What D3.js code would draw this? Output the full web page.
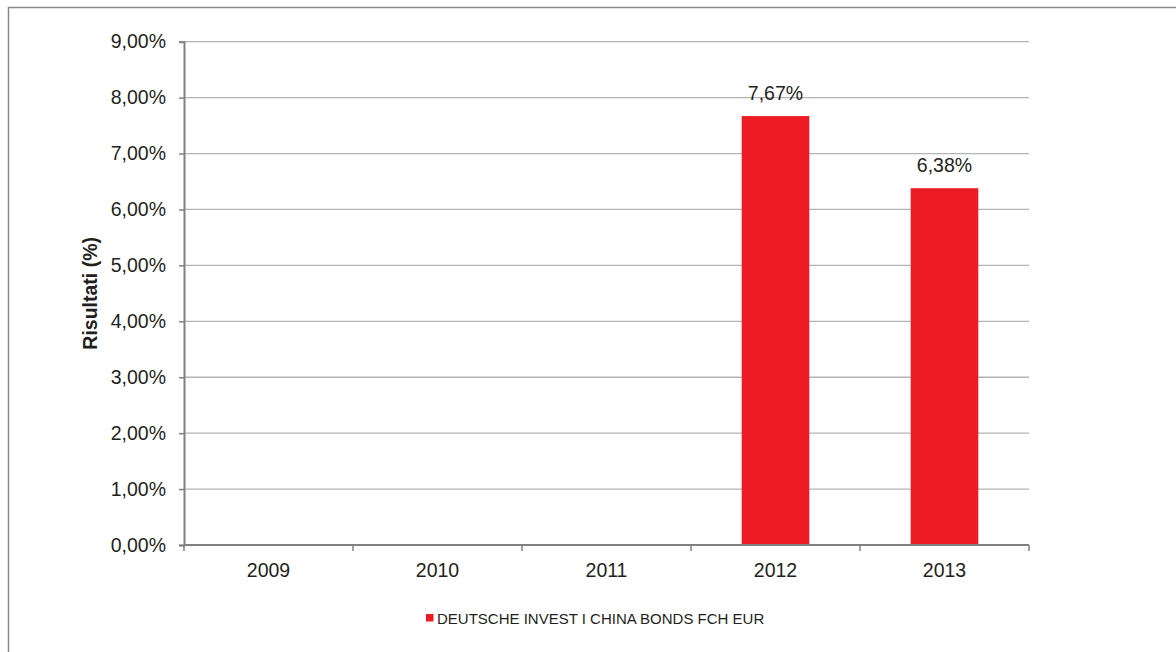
<!DOCTYPE html>
<html>
<head>
<meta charset="utf-8">
<script src="https://cdn.jsdelivr.net/npm/d3@7"></script>
<style>
  html, body { margin: 0; padding: 0; background: #fff; }
  svg { display: block; font-family: "Liberation Sans", Arial, Helvetica, sans-serif; }
</style>
</head>
<body>
<svg id="chart" width="1176" height="652"></svg>
<script>
const categories = ["2009", "2010", "2011", "2012", "2013"];
const values = [null, null, null, 7.67, 6.38];
const seriesName = "DEUTSCHE INVEST I CHINA BONDS FCH EUR";
const yTicks = [0, 1, 2, 3, 4, 5, 6, 7, 8, 9];
const yTitle = "Risultati (%)";

const svg = d3.select("#chart");
const W = 1176, H = 652;
const plot = { left: 184, right: 1029, top: 41.7, bottom: 545 };
const red = "#ED1C24";
const textColor = "#231f20";

// outer frame (clipped at right/bottom like the reference)
svg.append("path")
  .attr("d", `M${W + 2},7.5 H8.5 V${H + 2}`)
  .attr("fill", "none").attr("stroke", "#8a8a8a").attr("stroke-width", 1.5);

const xc = d3.scaleBand().domain(categories).range([plot.left, plot.right]);
const y = d3.scaleLinear().domain([0, 9]).range([plot.bottom, plot.top]);

const fmt = v => d3.format(".2f")(v).replace(".", ",") + "%";

// gridlines
svg.append("g").selectAll("line").data(yTicks.filter(d => d > 0)).join("line")
  .attr("x1", plot.left).attr("x2", plot.right)
  .attr("y1", d => y(d)).attr("y2", d => y(d))
  .attr("stroke", "#b4b4b4").attr("stroke-width", 1.3);

const barData = categories.map((c, i) => ({ c, v: values[i] })).filter(d => d.v != null);

// bars
svg.append("g").selectAll("rect").data(barData).join("rect")
  .attr("x", d => xc(d.c) + xc.bandwidth() * 0.3)
  .attr("width", xc.bandwidth() * 0.4)
  .attr("y", d => y(d.v))
  .attr("height", d => y(0) - y(d.v))
  .attr("fill", red);

// data labels
svg.append("g").selectAll("text").data(barData).join("text")
  .attr("x", d => xc(d.c) + xc.bandwidth() / 2)
  .attr("y", d => y(d.v) - 16)
  .attr("text-anchor", "middle")
  .attr("font-size", 19.5).attr("fill", textColor)
  .text(d => fmt(d.v));

// y axis
const yAxis = d3.axisLeft(y).tickValues(yTicks).tickSize(5).tickPadding(13).tickFormat(fmt);
const gy = svg.append("g").attr("transform", `translate(${plot.left},0)`).call(yAxis);
gy.select(".domain").attr("stroke", "#7f8080").attr("stroke-width", 2);
gy.selectAll(".tick line").attr("stroke", "#7f8080").attr("stroke-width", 1.5);
gy.selectAll(".tick text").attr("font-size", 19.5).attr("fill", textColor).attr("font-family", "Liberation Sans, Arial, sans-serif");

// x axis: line with ticks at category boundaries
const gx = svg.append("g");
gx.append("line").attr("x1", plot.left).attr("x2", plot.right).attr("y1", plot.bottom).attr("y2", plot.bottom)
  .attr("stroke", "#7f8080").attr("stroke-width", 2);
const bounds = categories.map(c => xc(c)).concat([xc(categories[categories.length - 1]) + xc.bandwidth()]);
gx.selectAll("line.tk").data(bounds).join("line").attr("class", "tk")
  .attr("x1", d => d).attr("x2", d => d).attr("y1", plot.bottom).attr("y2", plot.bottom + 6)
  .attr("stroke", "#7f8080").attr("stroke-width", 1.5);
gx.selectAll("text").data(categories).join("text")
  .attr("x", d => xc(d) + xc.bandwidth() / 2)
  .attr("y", 577)
  .attr("text-anchor", "middle").attr("font-size", 19.5).attr("fill", textColor)
  .text(d => d);

// y title
svg.append("text")
  .attr("transform", `translate(96.5,${(plot.top + plot.bottom) / 2}) rotate(-90)`)
  .attr("text-anchor", "middle").attr("font-weight", "bold").attr("font-size", 19.5).attr("fill", textColor)
  .text(yTitle);

// legend
const lg = svg.append("g");
lg.append("rect").attr("x", 426).attr("y", 614).attr("width", 7.5).attr("height", 7.5).attr("fill", red);
lg.append("text").attr("x", 437).attr("y", 623.5).attr("font-size", 15).attr("fill", textColor).text(seriesName);
</script>
</body>
</html>
